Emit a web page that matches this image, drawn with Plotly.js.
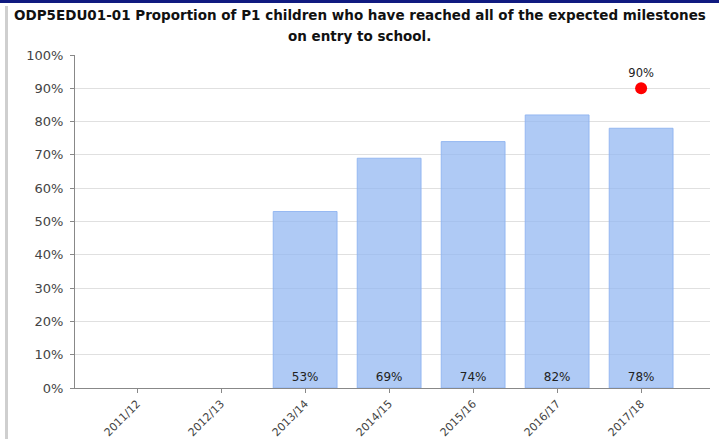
<!DOCTYPE html>
<html><head><meta charset="utf-8">
<script src="https://cdn.plot.ly/plotly-3.0.1.min.js"></script>
<style>
html,body{margin:0;padding:0;background:#fff;}
#wrap{position:relative;width:719px;height:439px;overflow:hidden;}
#topbar{position:absolute;left:0;top:0;width:719px;height:3px;background:#101a80;}
#leftbar{position:absolute;left:5px;top:6px;width:3px;height:433px;background:#cfcfcf;}
#chart{position:absolute;left:0;top:0;width:719px;height:439px;}
</style></head>
<body><div id="wrap"><div id="chart"></div><div id="topbar"></div><div id="leftbar"></div></div>
<script>
var categories = ['2011/12','2012/13','2013/14','2014/15','2015/16','2016/17','2017/18'];
var values = [null, null, 0.53, 0.69, 0.74, 0.82, 0.78];
var targetCategories = ['2017/18'];
var targetValues = [0.90];
var yTickVals = [0,0.1,0.2,0.3,0.4,0.5,0.6,0.7,0.8,0.9,1.0];
var yTickText = ['0%','10%','20%','30%','40%','50%','60%','70%','80%','90%','100%'];
var titleLines = ['ODP5EDU01-01 Proportion of P1 children who have reached all of the expected milestones','on entry to school.'];

var font = 'Tahoma, "DejaVu Sans", sans-serif';
var pct = function(v){return Math.round(v*100)+'%';};
var bars = {
  type:'bar', x:categories, y:values, width:0.76,
  marker:{color:'rgba(148,184,242,0.75)', line:{color:'rgba(140,178,240,0.85)', width:1}},
  textposition:'none', hoverinfo:'skip', showlegend:false
};
var barLabels = {
  type:'scatter', mode:'text', x:categories.filter(function(c,i){return values[i]!=null;}),
  y:values.filter(function(v){return v!=null;}).map(function(){return 0.03;}),
  text:values.filter(function(v){return v!=null;}).map(pct),
  textfont:{family:font,size:12,color:'#222'}, showlegend:false, hoverinfo:'skip'
};
var target = {
  type:'scatter', mode:'markers+text', x:targetCategories, y:targetValues,
  marker:{color:'#ff0000', size:12},
  text:targetValues.map(pct),
  textposition:'top center', textfont:{family:font,size:11.5,color:'#222'},
  showlegend:false, hoverinfo:'skip'
};
var layout = {
  width:719, height:439,
  margin:{l:75, r:9, t:55, b:51},
  paper_bgcolor:'rgba(0,0,0,0)', plot_bgcolor:'#fff',
  annotations:[
    {text:'<b>'+titleLines[0]+'</b>', xref:'paper', yref:'paper', x:0, y:1.12, xanchor:'center', yanchor:'middle', showarrow:false, font:{family:font,size:13.5,color:'#111'}},
    {text:'<b>'+titleLines[1]+'</b>', xref:'paper', yref:'paper', x:0, y:1.058, xanchor:'center', yanchor:'middle', showarrow:false, font:{family:font,size:13.5,color:'#111'}}
  ],
  xaxis:{type:'category', range:[-0.74,6.82], tickangle:-45, showgrid:false,
    showline:true, linecolor:'#888', ticks:'outside', ticklen:4, tickcolor:'#888',
    tickfont:{family:font,size:11,color:'#444'}, zeroline:false, fixedrange:true},
  yaxis:{range:[0,1], tickvals:yTickVals, ticktext:yTickText, showgrid:true, gridcolor:'#e0e0e0',
    showline:true, linecolor:'#888', ticks:'outside', ticklen:4, tickcolor:'#888', ticklabelstandoff:4,
    tickfont:{family:font,size:13,color:'#444'}, zeroline:false, fixedrange:true},
  bargap:0.24
};
// center title over the full page width (x = 359.5px)
layout.annotations.forEach(function(a){ a.x = (359.5-75)/(719-75-9); });
Plotly.newPlot('chart',[bars,barLabels,target],layout,{displayModeBar:false,staticPlot:true});
</script></body></html>
